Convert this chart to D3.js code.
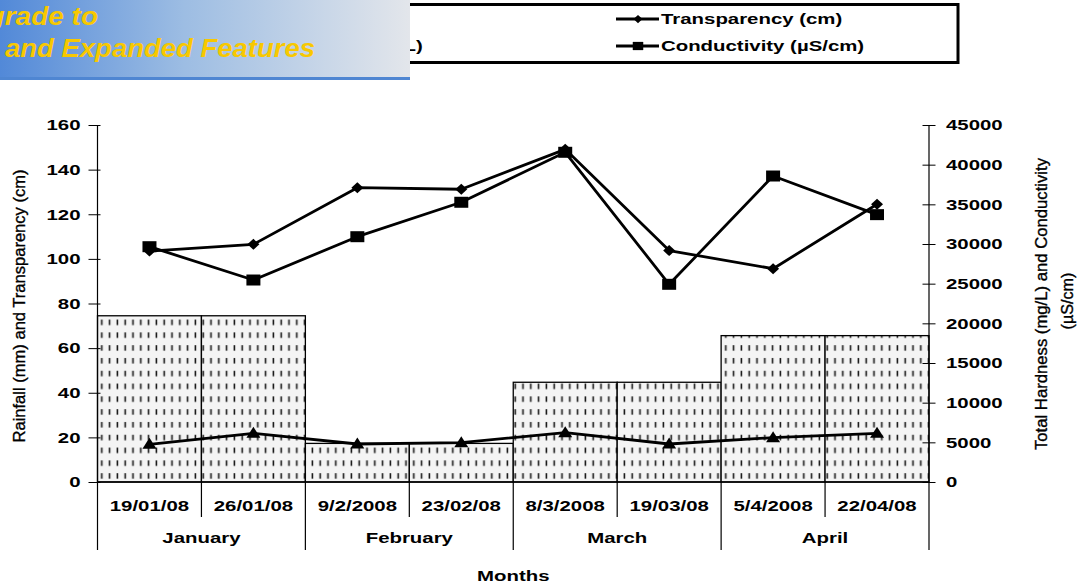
<!DOCTYPE html>
<html>
<head>
<meta charset="utf-8">
<script src="https://cdn.jsdelivr.net/npm/d3@7"></script>
<style>
	body { margin: 0; background: #fff; }
	text { font-family: "Liberation Sans", Arial, sans-serif; fill: #000; }
</style>
</head>
<body>
<script>
var dates = ['19/01/08', '26/01/08', '9/2/2008', '23/02/08', '8/3/2008', '19/03/08', '5/4/2008', '22/04/08'];
var months = ['January', 'February', 'March', 'April'];
var rainfall = [74.5, 74.5, 17.3, 17.3, 44.7, 44.7, 65.6, 65.6];
var transparency = [103.5, 106.5, 131.9, 131.2, 149.1, 103.7, 95.6, 124.5];
var conductivity = [29660, 25460, 30920, 35260, 41560, 24920, 38570, 33700];
var hardness = [4750, 6130, 4790, 4960, 6220, 4790, 5590, 6130];
var leftTicks = [0, 20, 40, 60, 80, 100, 120, 140, 160];
var rightTicks = [0, 5000, 10000, 15000, 20000, 25000, 30000, 35000, 40000, 45000];

var W = 1081, H = 588,
		stretch = 1.36;

var plot = {left: 97.5, right: 929, top: 125, bottom: 482};

var svg = d3.select("body").append("svg")
		.attr("width", W)
		.attr("height", H);

var defs = svg.append("defs");

var pat = defs.append("pattern")
		.attr("id", "rainPat")
		.attr("patternUnits", "userSpaceOnUse")
		.attr("x", plot.left)
		.attr("y", plot.bottom)
		.attr("width", 7.8)
		.attr("height", 12.8);
pat.append("rect")
		.attr("width", 7.8)
		.attr("height", 12.8)
		.attr("fill", "#f4f4f4");
pat.append("rect")
		.attr("x", 3.5)
		.attr("y", 4)
		.attr("width", 1.6)
		.attr("height", 5.5)
		.attr("fill", "#1a1a1a");

var grad = defs.append("linearGradient")
		.attr("id", "bannerGrad")
		.attr("x1", 0).attr("x2", 1).attr("y1", 0).attr("y2", 0);
grad.append("stop").attr("offset", 0).attr("stop-color", "#5289d8");
grad.append("stop").attr("offset", 0.45).attr("stop-color", "#9dbde3");
grad.append("stop").attr("offset", 1).attr("stop-color", "#e3e6eb");

var x = d3.scaleBand()
		.domain(dates)
		.range([plot.left, plot.right])
		.padding(0);

var yL = d3.scaleLinear().domain([0, 160]).range([plot.bottom, plot.top]),
		yR = d3.scaleLinear().domain([0, 45000]).range([plot.bottom, plot.top]);

var bw = x.bandwidth();
function cx(d, i) { return x(dates[i]) + bw / 2; }

// bars
svg.append("g").selectAll("rect")
		.data(rainfall)
	.enter().append("rect")
		.attr("x", function(d, i) { return x(dates[i]); })
		.attr("y", function(d) { return yL(d); })
		.attr("width", bw)
		.attr("height", function(d) { return yL(0) - yL(d); })
		.attr("fill", "url(#rainPat)")
		.attr("stroke", "#000")
		.attr("stroke-width", 1.3);

// axes
var axL = svg.append("g")
		.attr("transform", "translate(" + plot.left + ",0)")
		.call(d3.axisLeft(yL).tickValues(leftTicks).tickSize(9).tickFormat(d3.format("d")));
axL.select(".domain").remove();
axL.selectAll(".tick line").attr("x2", -9).attr("x1", 3).attr("stroke", "#000");
axL.selectAll(".tick text")
		.attr("x", -17 / stretch)
		.attr("transform", "scale(" + stretch + ",1)")
		.attr("font-size", 15)
		.attr("font-weight", "bold")
		.attr("font-family", "Liberation Sans, Arial, sans-serif");

var axR = svg.append("g")
		.attr("transform", "translate(" + plot.right + ",0)")
		.call(d3.axisRight(yR).tickValues(rightTicks).tickSize(6.5).tickFormat(d3.format("d")));
axR.select(".domain").remove();
axR.selectAll(".tick line").attr("x1", -6.5).attr("stroke", "#000");
axR.selectAll(".tick text")
		.attr("x", 17 / stretch)
		.attr("transform", "scale(" + stretch + ",1)")
		.attr("font-size", 15)
		.attr("font-weight", "bold")
		.attr("font-family", "Liberation Sans, Arial, sans-serif");

svg.append("line")
		.attr("x1", plot.left).attr("x2", plot.left)
		.attr("y1", plot.top).attr("y2", plot.bottom)
		.attr("stroke", "#000").attr("stroke-width", 1.2);
svg.append("line")
		.attr("x1", plot.right).attr("x2", plot.right)
		.attr("y1", plot.top).attr("y2", plot.bottom)
		.attr("stroke", "#000").attr("stroke-width", 1.2);
svg.append("line")
		.attr("x1", plot.left).attr("x2", plot.right)
		.attr("y1", plot.bottom).attr("y2", plot.bottom)
		.attr("stroke", "#000").attr("stroke-width", 1.5);

// category separators below the axis
var seps = svg.append("g");
dates.concat([null]).forEach(function(d, i) {
	var xp = d ? x(d) : plot.right,
			isMonth = i % 2 == 0;
	seps.append("line")
		.attr("x1", xp).attr("x2", xp)
		.attr("y1", plot.bottom)
		.attr("y2", isMonth ? 550 : 517)
		.attr("stroke", "#000")
		.attr("stroke-width", 1.2);
});

function hText(g, str, xp, yp, size, anchor, weight) {
	return g.append("text")
		.attr("transform", "translate(" + xp + "," + yp + ") scale(" + stretch + ",1)")
		.attr("text-anchor", anchor)
		.attr("dy", "0.35em")
		.attr("font-size", size)
		.attr("font-weight", weight || "bold")
		.text(str);
}

var labels = svg.append("g");
dates.forEach(function(d, i) {
	hText(labels, d, x(d) + bw / 2, 506, 15, "middle");
});
months.forEach(function(m, i) {
	var x0 = x(dates[i * 2]),
			x1 = x(dates[i * 2 + 1]) + bw;
	hText(labels, m, (x0 + x1) / 2, 538, 15, "middle");
});
hText(labels, "Months", (plot.left + plot.right) / 2, 576, 15, "middle");

function vText(str, xp, yp, len) {
	var t = labels.append("text")
		.attr("transform", "translate(" + xp + "," + yp + ") rotate(-90)")
		.attr("text-anchor", "middle")
		.attr("dy", "0.35em")
		.attr("font-size", 16.5)
		.attr("stroke", "#000")
		.attr("stroke-width", 0.35)
		.text(str);
	if(len) {
		t.attr("textLength", len).attr("lengthAdjust", "spacingAndGlyphs");
	}
	return t;
}
vText("Rainfall (mm) and Transparency (cm)", 19, 306, 273);
vText("Total Hardness (mg/L) and Conductivity", 1041, 304, 292);
vText("(µS/cm)", 1067, 301, 57);

// lines
var diamond = "M0,-5.5L6,0L0,5.5L-6,0Z",
		square = "M-7,-5.5H7V5.5H-7Z",
		triangle = "M0,-6.5L7,4.5L-7,4.5Z";

function series(values, scale, shape) {
	var g = svg.append("g");
	var line = d3.line()
			.x(cx)
			.y(function(d) { return scale(d); });
	g.append("path")
			.datum(values)
			.attr("d", line)
			.attr("fill", "none")
			.attr("stroke", "#000")
			.attr("stroke-width", 2.8)
			.attr("stroke-linejoin", "round");
	g.selectAll(".pt")
			.data(values)
		.enter().append("path")
			.attr("class", "pt")
			.attr("d", shape)
			.attr("transform", function(d, i) { return "translate(" + cx(d, i) + "," + scale(d) + ")"; })
			.attr("fill", "#000");
}

series(hardness, yR, triangle);
series(transparency, yL, diamond);
series(conductivity, yR, square);

// legend
var legend = svg.append("g");
legend.append("rect")
		.attr("x", 150)
		.attr("y", 4.5)
		.attr("width", 808)
		.attr("height", 58)
		.attr("fill", "#fff")
		.attr("stroke", "#000")
		.attr("stroke-width", 3);

var legendItems = [
	{name: "Rainfall (mm)", x: 209, y: 19, shape: null},
	{name: "Total Hardness (mg/L)", x: 209, y: 46, shape: triangle},
	{name: "Transparency (cm)", x: 661, y: 19, shape: diamond},
	{name: "Conductivity (µS/cm)", x: 661, y: 46, shape: square}
];
legendItems.forEach(function(item) {
	if(item.shape) {
		legend.append("line")
			.attr("x1", item.x - 45).attr("x2", item.x - 2)
			.attr("y1", item.y).attr("y2", item.y)
			.attr("stroke", "#000").attr("stroke-width", 2.8);
		legend.append("path")
			.attr("d", item.shape)
			.attr("transform", "translate(" + (item.x - 23) + "," + item.y + ") scale(0.75)")
			.attr("fill", "#000");
	} else {
		legend.append("rect")
			.attr("x", item.x - 30).attr("y", item.y - 6)
			.attr("width", 22).attr("height", 12)
			.attr("fill", "url(#rainPat)")
			.attr("stroke", "#000");
	}
	hText(legend, item.name, item.x, item.y, 15, "start");
});

// converter banner sitting over the top left corner
var banner = svg.append("g");
banner.append("rect")
		.attr("x", 0).attr("y", 0)
		.attr("width", 410).attr("height", 78)
		.attr("fill", "url(#bannerGrad)");
banner.append("rect")
		.attr("x", 0).attr("y", 77)
		.attr("width", 410).attr("height", 3)
		.attr("fill", "#4f86d2");
banner.append("text")
		.attr("transform", "translate(98,25) scale(1.12,1)")
		.attr("text-anchor", "end")
		.attr("font-size", 25)
		.attr("font-weight", "bold")
		.attr("font-style", "italic")
		.style("fill", "#f8c800")
		.text("grade to");
banner.append("text")
		.attr("transform", "translate(5,57) scale(1.1,1)")
		.attr("font-size", 25)
		.attr("font-weight", "bold")
		.attr("font-style", "italic")
		.style("fill", "#f8c800")
		.text("and Expanded Features");
</script>
</body>
</html>
